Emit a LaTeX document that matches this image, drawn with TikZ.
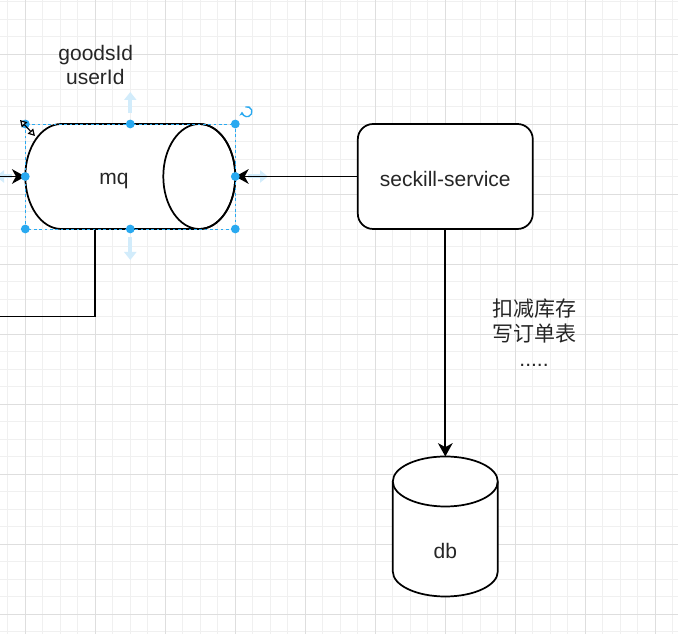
\documentclass[tikz,border=0pt]{standalone}
\usepackage{fontspec}
\setmainfont{Liberation Sans}
\newfontfamily\cjkfont{Noto Sans CJK SC}
\usetikzlibrary{arrows.meta,calc}
\definecolor{selblue}{HTML}{29A9F0}
\definecolor{hintblue}{HTML}{D2ECFB}
\definecolor{gridminor}{HTML}{F0F0F0}
\definecolor{gridmajor}{HTML}{DEDEDE}
\begin{document}
\begin{tikzpicture}[x=0.75pt,y=0.75pt,
  txt/.style={font=\fontsize{15.75pt}{18.9pt}\selectfont, text=black!85, inner sep=0pt, anchor=base},
  cjk/.style={txt, font=\cjkfont\fontsize{15.75pt}{18.9pt}\selectfont},
  shapeframe/.style={inner sep=0pt, outer sep=0pt},
  outline/.style={draw=black, line width=1.3pt, fill=white},
  link/.style={draw=black, line width=1.3pt},
  arrowto/.style={link, -{Stealth[length=10pt,width=11pt,inset=3pt]}},
  minorgrid/.style={draw=gridminor, line width=0.7pt},
  majorgrid/.style={draw=gridmajor, line width=0.7pt},
  hint/.style={draw=hintblue, line width=3pt, -{Triangle[length=6pt,width=9pt]}},
]
\useasboundingbox (0,0) rectangle (678,634);
\fill[white] (0,0) rectangle (678,634);
% grid
\foreach \k in {0,...,38} {\draw[minorgrid] (7.8+17.5*\k,0) -- (7.8+17.5*\k,634);}
\foreach \k in {0,...,36} {\draw[minorgrid] (0,632.5-17.5*\k) -- (678,632.5-17.5*\k);}
\foreach \k in {0,...,9} {\draw[majorgrid] (25.3+70*\k,0) -- (25.3+70*\k,634);}
\foreach \k in {0,...,8} {\draw[majorgrid] (0,580-70*\k) -- (678,580-70*\k);}

% shape frames
\node[shapeframe, minimum width=157.5pt, minimum height=78.75pt] (mq) at (130.3,457.5) {};
\node[shapeframe, draw=black, line width=1.3pt, rounded corners=11.5pt, fill=white,
      minimum width=131.25pt, minimum height=78.75pt] (svc) at (445.3,457.5) {};
\node[shapeframe, minimum width=78.75pt, minimum height=105pt] (db) at (445.3,107.5) {};

% hover hints (under connectors)
\coordinate (hu1) at (130.3,521); \coordinate (hu2) at (130.3,542);
\coordinate (hd1) at (130.3,397); \coordinate (hd2) at (130.3,374);
\coordinate (hr1) at (248,457.5); \coordinate (hr2) at (268,457.5);
\coordinate (hl1) at (12,457.5); \coordinate (hl2) at (-4,457.5);
\draw[hint] (hu1) -- (hu2);
\draw[hint] (hd1) -- (hd2);
\draw[hint] (hr1) -- (hr2);
\draw[hint] (hl1) -- (hl2);

% mq cylinder (horizontal)
\path[outline] ($(mq.north east)+(-36,0)$) -- ($(mq.north west)+(36,0)$)
  arc[start angle=90, end angle=270, x radius=27pt, y radius=39.375pt]
  -- ($(mq.south east)+(-36,0)$)
  arc[start angle=-90, end angle=90, x radius=27pt, y radius=39.375pt] -- cycle;
\draw[line width=1.3pt] ($(mq.east)+(-36,0)$) ellipse [x radius=27pt, y radius=39.375pt];

% db cylinder
\path[outline] ($(db.north west)+(0,-25)$) -- ($(db.south west)+(0,25)$)
  arc[start angle=180, end angle=360, x radius=39.375pt, y radius=18.75pt]
  -- ($(db.north east)+(0,-25)$)
  arc[start angle=0, end angle=180, x radius=39.375pt, y radius=18.75pt] -- cycle;
\draw[line width=1.3pt] ($(db.north west)+(0,-25)$)
  arc[start angle=180, end angle=360, x radius=39.375pt, y radius=18.75pt];

% connectors
\coordinate (leftin) at (0,457.5);
\coordinate (bend) at (95.3,317.5);
\coordinate (leftout) at (0,317.5);
\draw[arrowto] (leftin) -- (mq.west);
\draw[arrowto] (svc.west) -- (mq.east);
\draw[arrowto] (svc.south) -- (db.north);
\draw[link] (mq.south -| bend) -- (bend) -- (leftout);

% texts
\node[txt] (goods) at (95.8,573.3) {goodsId};
\node[txt] (user) at (95.3,549.7) {userId};
\node[txt] (mqtext) at (114,449.8) {mq};
\node[txt] (svctext) at (445.3,447.3) {seckill-service};
\node[txt] (dbtext) at (445.3,75.7) {db};
\node[cjk] (lbl1) at (534.5,317.5) {扣减库存};
\node[cjk] (lbl2) at (534.5,292) {写订单表};
\node[txt] (lbl3) at (534,267.5) {.....};

% selection decorations
\draw[selblue, line width=0.6pt, dash pattern=on 2pt off 2pt] (mq.south west) rectangle (mq.north east);
\foreach \a in {north west,north,north east,east,south east,south,south west,west}
  {\fill[selblue] (mq.\a) circle[radius=3.3pt];}
\coordinate (rot) at (247,522.3);
\draw[selblue, line width=1pt, -{Stealth[length=3pt,width=4pt]}]
  ($(rot)+(110:3.75pt)$) arc[start angle=110, end angle=-180, radius=3.75pt];
\coordinate (cur1) at (20,514);
\coordinate (cur2) at (35,498);
\draw[black, line width=0.9pt, {Triangle[open, fill=white, length=5pt, width=5.5pt]}-{Triangle[open, fill=white, length=5pt, width=5.5pt]}] (cur1) -- (cur2);
\end{tikzpicture}
\end{document}
